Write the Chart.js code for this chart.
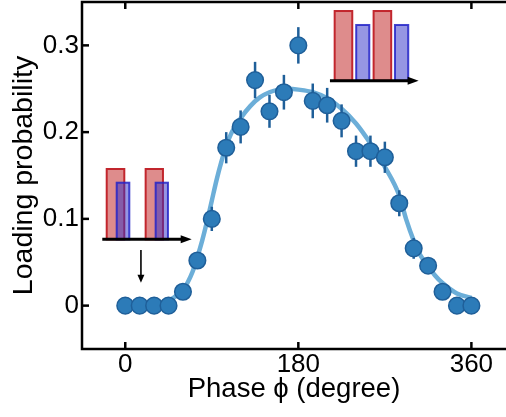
<!DOCTYPE html>
<html><head><meta charset="utf-8">
<script src="https://cdn.jsdelivr.net/npm/chart.js@4.4.1/dist/chart.umd.min.js"></script>
<style>html,body{margin:0;padding:0;background:#fff;}canvas{display:block}</style>
</head><body>
<canvas id="c" width="506" height="417"></canvas>
<script>
// ---- data ----
const phase = [0,15,30,45,60,75,90,105,120,135,150,165,180,195,210,225,240,255,270,285,300,315,330,345,360];
const loadingProb = [0,0,0,0,0.016,0.052,0.100,0.182,0.206,0.260,0.224,0.246,0.300,0.236,0.231,0.213,0.178,0.178,0.171,0.118,0.066,0.046,0.016,0,0];
const probError = [0,0,0,0,0.005,0.008,0.014,0.018,0.019,0.021,0.019,0.020,0.021,0.020,0.020,0.019,0.018,0.018,0.018,0.015,0.012,0.008,0.005,0,0];
const fitPhase = [35,40,45,50,55,60,65,70,75,80,85,90,95,100,105,110,120,130,140,150,160,170,180,195,210,225,240,255,270,285,292,300,307,315,322,330,345,360];
const fitProb  = [0.003,0.004,0.006,0.009,0.013,0.018,0.027,0.039,0.056,0.075,0.097,0.121,0.145,0.166,0.184,0.198,0.216,0.230,0.240,0.246,0.249,0.250,0.249,0.246,0.239,0.227,0.210,0.187,0.160,0.127,0.100,0.075,0.058,0.046,0.035,0.026,0.014,0.009];
const xTickValues = [0,180,360];
const yTickValues = [0,0.1,0.2,0.3];
const xTitle = 'Phase \u03D5 (degree)';
const yTitle = 'Loading probability';

// ---- inset icons (in data units) ----
const insetLeft = {base:0.0764, x0:-23.9, x1:69.1,
  red:[[-19.3,-1.0],[21.2,39.2]], redTop:0.1575,
  blue:[[-8.9,4.2],[31.6,44.4]], blueTop:0.1417,
  down:{x:16.3, y0:0.0641, y1:0.0264}};
const insetRight = {base:0.2593, x0:212.9, x1:305.1,
  red:[[217.8,236.1],[258.3,276.6]], redTop:0.3396,
  blue:[[240.2,253.8],[280.5,294.3]], blueTop:0.3235};

const FONT = 'Liberation Sans, Arial, Helvetica, sans-serif';
const LINE = 2.5;

function drawInset(ctx, x, y, ins) {
  const by = y.getPixelForValue(ins.base);
  ctx.save();
  for (let k = 0; k < ins.red.length; k++) {
    const r = ins.red[k], b = ins.blue[k];
    let l = x.getPixelForValue(r[0]), rr = x.getPixelForValue(r[1]), t = y.getPixelForValue(ins.redTop);
    ctx.fillStyle = 'rgba(195,45,45,0.55)';
    ctx.strokeStyle = '#c2262d'; ctx.lineWidth = 2;
    ctx.fillRect(l, t, rr - l, by - t); ctx.strokeRect(l, t, rr - l, by - t);
    l = x.getPixelForValue(b[0]); rr = x.getPixelForValue(b[1]); t = y.getPixelForValue(ins.blueTop);
    ctx.fillStyle = 'rgba(45,45,200,0.5)';
    ctx.strokeStyle = 'rgba(35,35,200,0.85)';
    ctx.fillRect(l, t, rr - l, by - t); ctx.strokeRect(l, t, rr - l, by - t);
  }
  const a0 = x.getPixelForValue(ins.x0), a1 = x.getPixelForValue(ins.x1);
  ctx.strokeStyle = '#000'; ctx.fillStyle = '#000'; ctx.lineWidth = 3;
  ctx.beginPath(); ctx.moveTo(a0, by); ctx.lineTo(a1 - 8, by); ctx.stroke();
  ctx.beginPath(); ctx.moveTo(a1 - 11, by - 4); ctx.lineTo(a1, by); ctx.lineTo(a1 - 11, by + 4); ctx.closePath(); ctx.fill();
  if (ins.down) {
    const dx = x.getPixelForValue(ins.down.x), d0 = y.getPixelForValue(ins.down.y0), d1 = y.getPixelForValue(ins.down.y1);
    ctx.lineWidth = 1.6;
    ctx.beginPath(); ctx.moveTo(dx, d0); ctx.lineTo(dx, d1 - 6); ctx.stroke();
    ctx.beginPath(); ctx.moveTo(dx - 3.5, d1 - 8); ctx.lineTo(dx, d1); ctx.lineTo(dx + 3.5, d1 - 8); ctx.closePath(); ctx.fill();
  }
  ctx.restore();
}

const decor = {
  id: 'decor',
  beforeDatasetDraw(chart, args) {
    if (args.index !== 0) return;
    const {ctx, scales: {x, y}} = chart;
    ctx.save();
    ctx.strokeStyle = '#1f5f99'; ctx.lineWidth = 2.5;
    phase.forEach((p, i) => {
      const e = probError[i]; if (!e) return;
      const px = x.getPixelForValue(p);
      ctx.beginPath();
      ctx.moveTo(px, y.getPixelForValue(loadingProb[i] - e));
      ctx.lineTo(px, y.getPixelForValue(loadingProb[i] + e));
      ctx.stroke();
    });
    ctx.restore();
  },
  afterDraw(chart) {
    const {ctx, chartArea: a, scales: {x, y}} = chart;
    ctx.save();
    ctx.strokeStyle = '#000'; ctx.lineWidth = LINE; ctx.lineCap = 'butt';
    ctx.beginPath();
    ctx.moveTo(a.right, a.top); ctx.lineTo(a.left, a.top); ctx.lineTo(a.left, a.bottom); ctx.lineTo(a.right, a.bottom);
    ctx.stroke();
    x.ticks.forEach(t => {
      const px = x.getPixelForValue(t.value);
      ctx.beginPath(); ctx.moveTo(px, a.bottom); ctx.lineTo(px, a.bottom - 7); ctx.stroke();
      ctx.beginPath(); ctx.moveTo(px, a.top); ctx.lineTo(px, a.top + 7); ctx.stroke();
    });
    y.ticks.forEach(t => {
      const py = y.getPixelForValue(t.value);
      ctx.beginPath(); ctx.moveTo(a.left, py); ctx.lineTo(a.left + 7, py); ctx.stroke();
    });
    ctx.restore();
    drawInset(ctx, x, y, insetLeft);
    drawInset(ctx, x, y, insetRight);
  }
};

new Chart(document.getElementById('c'), {
  type: 'scatter',
  data: {
    datasets: [
      {
        data: phase.map((p, i) => ({x: p, y: loadingProb[i]})),
        order: 0,
        pointRadius: 8.3,
        pointBorderWidth: 1.5,
        backgroundColor: '#2c7bb8',
        borderColor: '#1f5f99',
        showLine: false
      },
      {
        data: fitPhase.map((p, i) => ({x: p, y: fitProb[i]})),
        order: 1,
        showLine: true,
        pointRadius: 0,
        borderColor: '#6caed8',
        borderWidth: 4.5,
        cubicInterpolationMode: 'monotone',
        fill: false
      }
    ]
  },
  options: {
    responsive: false,
    animation: false,
    devicePixelRatio: 1,
    layout: {autoPadding: false, padding: {top: 2, right: 0, bottom: 0, left: 0}},
    plugins: {legend: {display: false}, tooltip: {enabled: false}},
    scales: {
      x: {
        type: 'linear', min: -45, max: 396,
        afterBuildTicks: s => { s.ticks = xTickValues.map(v => ({value: v})); },
        afterFit: s => { s.height = 68; s.paddingLeft = 0; s.paddingRight = 0; },
        grid: {display: false, drawTicks: false},
        border: {display: false},
        ticks: {color: '#000', font: {family: FONT, size: 26}, padding: 0, maxRotation: 0, autoSkip: false,
          callback: v => String(v)},
        title: {display: true, text: xTitle, color: '#000', font: {family: FONT, size: 27.5}, padding: {top: 0, bottom: 11}}
      },
      y: {
        type: 'linear', min: -0.05, max: 0.35,
        afterBuildTicks: s => { s.ticks = yTickValues.map(v => ({value: v})); },
        afterFit: s => { s.width = 82; s.paddingTop = 0; s.paddingBottom = 0; },
        grid: {display: false, drawTicks: false},
        border: {display: false},
        ticks: {color: '#000', font: {family: FONT, size: 26}, padding: 3, autoSkip: false,
          callback: v => v === 0 ? '0' : v.toFixed(1)},
        title: {display: true, text: yTitle, color: '#000', font: {family: FONT, size: 28.5}, padding: {top: 7, bottom: 0}}
      }
    }
  },
  plugins: [decor]
});
</script>
</body></html>
